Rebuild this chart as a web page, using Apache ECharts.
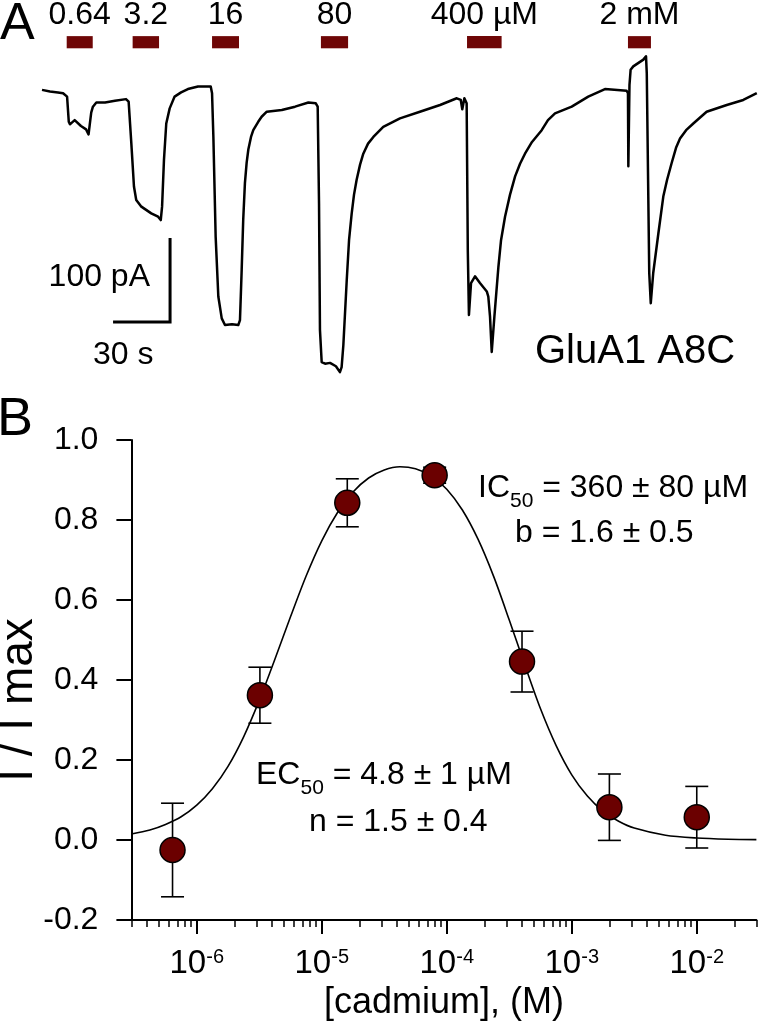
<!DOCTYPE html>
<html><head><meta charset="utf-8">
<script src="https://cdn.jsdelivr.net/npm/echarts@6/dist/echarts.min.js"></script>
<style>html,body{margin:0;padding:0;background:#fff}#c{width:758px;height:1024px}</style>
</head><body><div id="c"></div>
<script>
// ---------- Panel A: current trace (time in s, current in pA) ----------
const traceT = [0,4.2,8.4,11.1,11.9,13.2,14.1,14.7,17.2,20.5,23.2,24.5,25.1,25.9,26.8,28.6,33.2,38.4,44.2,45.6,
  47.0,48.4,49.6,52.3,57.5,61.1,62.5,63.2,64.2,65.4,67.2,69.8,73.2,76.8,82.1,88.8,
  89.5,90.2,91.4,92.8,94.6,96.3,100.0,103.3,104.2,105.1,105.9,106.8,107.7,108.6,110.0,111.2,113.8,115.6,118.3,119.1,126.2,133.2,140.2,144.1,145.1,
  145.8,146.3,147.2,149.0,151.6,154.7,156.8,157.7,158.6,160.4,161.6,163.0,164.2,165.6,167.4,169.1,171.6,174.4,179.6,188.4,198.9,209.5,218.3,220.4,221.2,222.3,223.5,
  224.1,224.7,225.8,227.9,230.5,234.1,234.9,235.8,236.7,238.1,240.2,241.6,243.7,246.3,249.0,251.6,254.2,257.9,263.0,266.3,270.0,278.8,287.5,296.3,307.7,
  308.4,308.6,309.2,309.8,311.2,316.5,317.9,318.3,319.6,320.4,321.7,324.4,327.0,329.0,331.4,333.7,335.8,339.0,342.8,349.8,360.4,369.1,376.2];
const traceI = [3,1,0,-1,1,-5,-35,-38,-33,-40,-44,-50,-39,-24,-17,-12,-12,-10,-8,-11,
  -60,-112,-128,-136,-144,-148,-152,-136,-80,-37,-19,-5,0,4,7,7,
  -1,-53,-172,-243,-269,-277,-276,-277,-271,-211,-152,-108,-84,-68,-53,-45,-35,-29,-23,-22,-21,-17,-12,-13,-17,
  -132,-283,-321,-323,-322,-326,-333,-327,-301,-223,-176,-144,-122,-104,-86,-73,-61,-53,-41,-31,-23,-15,-7,-9,-20,-7,-13,
  -188,-265,-227,-219,-227,-237,-243,-267,-309,-267,-208,-176,-148,-122,-100,-85,-73,-59,-45,-33,-25,-17,-5,4,2,
  -1,-88,9,27,31,39,43,23,-215,-251,-215,-168,-124,-104,-84,-66,-55,-45,-37,-23,-15,-9,-1];
// cadmium applications (s)
const concLabels = ['0.64', '3.2', '16', '80', '400 µM', '2 mM'];
const concStart = [13.0, 47.7, 89.5, 146.8, 223.7, 308.4];
const concEnd   = [26.7, 61.6, 103.7, 161.1, 241.9, 320.5];
const scaleBarT = 30;   // s
const scaleBarI = 100;  // pA

// ---------- Panel B: dose-response ----------
const conc  = [6.4e-7, 3.2e-6, 1.6e-5, 8e-5, 4e-4, 2e-3, 1e-2];   // M
const meanI = [-0.025, 0.362, 0.843, 0.912, 0.446, 0.082, 0.057];
const semI  = [0.117, 0.070, 0.060, 0.020, 0.076, 0.083, 0.077];
const curveLogConc = [-6.523,-6.375,-6.25,-6.125,-6.0,-5.875,-5.75,-5.625,-5.5,-5.375,-5.25,-5.125,-5.0,-4.875,-4.75,-4.625,-4.5,-4.375,-4.25,-4.125,-4.0,-3.875,-3.75,-3.625,-3.5,-3.375,-3.25,-3.125,-3.0,-2.875,-2.75,-2.625,-2.5,-2.25,-2.0,-1.75,-1.523];
const curveY = [0.015,0.025,0.039,0.058,0.087,0.128,0.184,0.258,0.349,0.452,0.558,0.660,0.748,0.818,0.870,0.905,0.925,0.933,0.928,0.910,0.877,0.825,0.752,0.659,0.550,0.437,0.328,0.236,0.163,0.110,0.072,0.047,0.030,0.012,0.005,0.002,0.001];
const xTickExp = [-6, -5, -4, -3, -2];
const yTicks = [-0.2, 0.0, 0.2, 0.4, 0.6, 0.8, 1.0];

const FONT = '"Liberation Sans", Arial, sans-serif';
const RED = '#6b0000';
const X_MIN = Math.log10(3e-7), X_MAX = Math.log10(3e-2);

const minorTicks = [];
for (let n = -7; n <= -2; n++) {
  for (let k = 2; k <= 9; k++) {
    const v = n + Math.log10(k);
    if (v >= X_MIN - 1e-9 && v <= X_MAX + 1e-9) minorTicks.push(v);
  }
}

const chart = echarts.init(document.getElementById('c'), null, {renderer: 'canvas'});

const subRich = {
  m: {fontSize: 32, fontFamily: FONT, color: '#000', lineHeight: 32},
  s: {fontSize: 21, fontFamily: FONT, color: '#000', lineHeight: 21, padding: [27, 0, 0, 0]}
};

const option = {
  animation: false,
  backgroundColor: '#fff',
  textStyle: {fontFamily: FONT},
  grid: [
    {left: 131.4, right: 1.6, top: 440, bottom: 104},
    {left: 42, right: 0, top: 0, height: 378}
  ],
  xAxis: [
    {
      type: 'value', gridIndex: 0, min: X_MIN, max: X_MAX, position: 'bottom',
      axisLine: {show: true, onZero: false, lineStyle: {color: '#000', width: 2}},
      axisTick: {show: true, customValues: xTickExp, length: 14, lineStyle: {color: '#000', width: 2}},
      axisLabel: {
        customValues: xTickExp, margin: 27, color: '#000',
        formatter: v => '{b|10}{s|' + Math.round(v) + '}',
        rich: {
          b: {fontSize: 33, fontFamily: FONT, color: '#000', lineHeight: 33},
          s: {fontSize: 20, fontFamily: FONT, color: '#000', lineHeight: 20, padding: [0, 0, 13, 0]}
        }
      },
      splitLine: {show: false},
      name: '[cadmium], (M)', nameLocation: 'middle', nameGap: 65,
      nameTextStyle: {fontSize: 36, fontFamily: FONT, color: '#000'}
    },
    {
      type: 'value', gridIndex: 0, min: X_MIN, max: X_MAX, position: 'bottom',
      axisLine: {show: false, onZero: false},
      axisTick: {show: true, customValues: minorTicks, length: 7, lineStyle: {color: '#000', width: 1.5}},
      axisLabel: {show: false},
      splitLine: {show: false}
    },
    {type: 'value', gridIndex: 1, min: 0, max: 716 / 1.9, show: false}
  ],
  yAxis: [
    {
      type: 'value', gridIndex: 0, min: -0.2, max: 1.0, interval: 0.2,
      axisLine: {show: true, onZero: false, lineStyle: {color: '#000', width: 2}},
      axisTick: {show: true, length: 15, lineStyle: {color: '#000', width: 2}},
      axisLabel: {margin: 33, fontSize: 32, fontFamily: FONT, color: '#000', formatter: v => v.toFixed(1)},
      splitLine: {show: false}
    },
    {type: 'value', gridIndex: 1, min: -340, max: 110, show: false}
  ],
  series: [
    {
      name: 'trace', type: 'line', xAxisIndex: 2, yAxisIndex: 1,
      data: traceT.map((t, i) => [t, traceI[i]]),
      showSymbol: false, symbol: 'none', clip: false,
      lineStyle: {color: '#000', width: 2.5, join: 'round'}
    },
    {
      name: 'scalebar', type: 'line', xAxisIndex: 2, yAxisIndex: 1,
      data: [[37.4, -273.3], [37.4 + scaleBarT, -273.3], [37.4 + scaleBarT, -273.3 + scaleBarI]],
      showSymbol: false, symbol: 'none', clip: false,
      lineStyle: {color: '#000', width: 3, join: 'miter', cap: 'butt'}
    },
    {
      name: 'cadmium', type: 'custom', xAxisIndex: 2, yAxisIndex: 1, clip: false,
      data: concStart.map((s, i) => [s, concEnd[i], 67]),
      encode: {x: [0, 1], y: 2},
      renderItem: (params, api) => {
        const a = api.coord([api.value(0), 67]);
        const b = api.coord([api.value(1), 52.5]);
        return {type: 'group', children: [
          {type: 'rect', shape: {x: a[0], y: a[1], width: b[0] - a[0], height: b[1] - a[1]}, style: {fill: '#6e0606'}},
          {type: 'text', x: (a[0] + b[0]) / 2, y: a[1] - 21,
           style: {text: concLabels[params.dataIndex], fontSize: 32, fontFamily: FONT, fill: '#000', align: 'center', verticalAlign: 'middle'}}
        ]};
      }
    },
    {
      name: 'fit', type: 'line', xAxisIndex: 0, yAxisIndex: 0,
      data: curveLogConc.map((x, i) => [x, curveY[i]]),
      smooth: 0.3, showSymbol: false, symbol: 'none', clip: false,
      lineStyle: {color: '#000', width: 1.6}
    },
    {
      name: 'err', type: 'custom', xAxisIndex: 0, yAxisIndex: 0,
      data: conc.map((c, i) => [Math.log10(c), meanI[i] - semI[i], meanI[i] + semI[i]]),
      encode: {x: 0, y: [1, 2]},
      renderItem: (params, api) => {
        const lo = api.coord([api.value(0), api.value(1)]);
        const hi = api.coord([api.value(0), api.value(2)]);
        const h = 11.5;
        const st = {stroke: '#000', lineWidth: 1.6};
        return {type: 'group', children: [
          {type: 'line', shape: {x1: lo[0], y1: lo[1], x2: hi[0], y2: hi[1]}, style: st},
          {type: 'line', shape: {x1: lo[0] - h, y1: lo[1], x2: lo[0] + h, y2: lo[1]}, style: st},
          {type: 'line', shape: {x1: hi[0] - h, y1: hi[1], x2: hi[0] + h, y2: hi[1]}, style: st}
        ]};
      }
    },
    {
      name: 'data', type: 'scatter', xAxisIndex: 0, yAxisIndex: 0, z: 5,
      data: conc.map((c, i) => [Math.log10(c), meanI[i]]),
      symbol: 'circle', symbolSize: 25,
      itemStyle: {color: RED, borderColor: '#000', borderWidth: 1.5, opacity: 1}
    }
  ],
  graphic: [
    {type: 'text', x: 0, y: 25, style: {text: 'A', fontSize: 52, fontFamily: FONT, fill: '#000', align: 'left', verticalAlign: 'middle'}},
    {type: 'text', x: -3, y: 420, style: {text: 'B', fontSize: 54, fontFamily: FONT, fill: '#000', align: 'left', verticalAlign: 'middle'}},
    {type: 'text', x: 19, y: 700, rotation: Math.PI / 2, style: {text: 'I / I max', fontSize: 46, fontFamily: FONT, fill: '#000', align: 'center', verticalAlign: 'middle'}},
    {type: 'text', x: 150, y: 277, style: {text: '100 pA', fontSize: 32, fontFamily: FONT, fill: '#000', align: 'right', verticalAlign: 'middle'}},
    {type: 'text', x: 93, y: 355, style: {text: '30 s', fontSize: 32, fontFamily: FONT, fill: '#000', align: 'left', verticalAlign: 'middle'}},
    {type: 'text', x: 535, y: 352, style: {text: 'GluA1 A8C', fontSize: 40, fontFamily: FONT, fill: '#000', align: 'left', verticalAlign: 'middle'}},
    {type: 'text', x: 478, y: 488, style: {text: '{m|IC}{s|50}{m| = 360 ± 80 µM}', align: 'left', verticalAlign: 'middle', rich: subRich}},
    {type: 'text', x: 515, y: 533, style: {text: 'b = 1.6 ± 0.5', fontSize: 32, fontFamily: FONT, fill: '#000', align: 'left', verticalAlign: 'middle'}},
    {type: 'text', x: 256, y: 775, style: {text: '{m|EC}{s|50}{m| = 4.8 ± 1 µM}', align: 'left', verticalAlign: 'middle', rich: subRich}},
    {type: 'text', x: 309, y: 822, style: {text: 'n = 1.5 ± 0.4', fontSize: 32, fontFamily: FONT, fill: '#000', align: 'left', verticalAlign: 'middle'}}
  ]
};
chart.setOption(option);
</script>
</body></html>
